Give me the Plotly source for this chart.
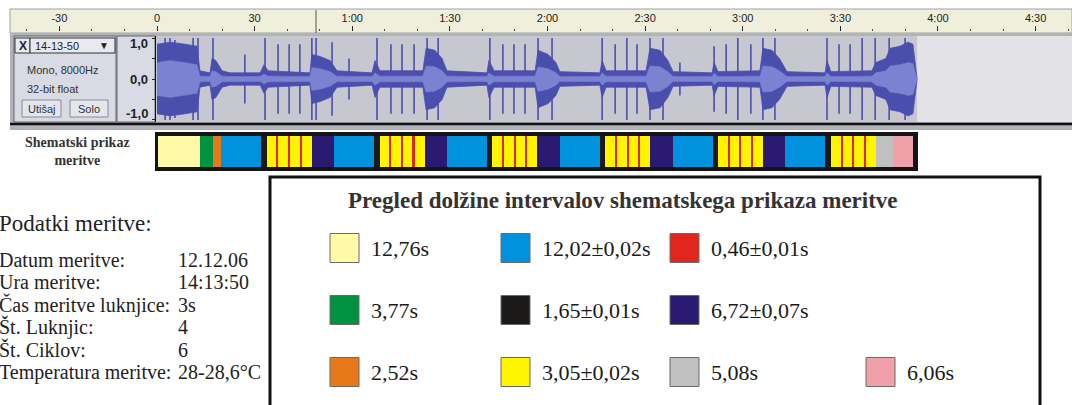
import plotly.graph_objects as go

W, H = 1072, 405

# ---------------- data ----------------
ruler_tick_s = [-30, 0, 30, 60, 90, 120, 150, 180, 210, 240, 270]
ruler_tick_labels = ["-30", "0", "30", "1:00", "1:30", "2:00", "2:30", "3:00", "3:30", "4:00", "4:30"]

# waveform peak / rms envelope (seconds, amplitude)
env_t = [0.0, 4.0, 8.6, 12.3, 13.2, 16.3, 16.9, 18.1, 20.0, 22.4, 31.7, 32.9, 34.1,
         47.0, 47.6, 50.1, 53.2, 55.3, 66.1, 67.0, 68.5, 81.7, 82.7, 85.4, 87.6, 89.1,
         101.4, 102.0, 103.6, 116.2, 117.1, 120.2, 122.6, 123.8, 136.1, 136.8, 138.0,
         150.3, 151.5, 154.6, 157.0, 158.6, 170.6, 171.2, 172.4, 185.3, 186.2, 189.0,
         191.3, 193.6, 205.3, 205.9, 207.1, 219.7, 220.9, 224.0, 225.3, 228.3, 230.8,
         232.3, 233.6]
env_peak = [0.85, 0.9, 0.85, 0.8, 0.2, 0.15, 0.5, 0.45, 0.2, 0.15, 0.15, 0.35, 0.2,
            0.15, 0.6, 0.55, 0.45, 0.2, 0.15, 0.45, 0.2, 0.2, 0.75, 0.7, 0.5, 0.2,
            0.15, 0.45, 0.2, 0.2, 0.7, 0.6, 0.4, 0.18, 0.15, 0.45, 0.2,
            0.2, 0.75, 0.7, 0.45, 0.18, 0.15, 0.4, 0.18, 0.2, 0.75, 0.7,
            0.5, 0.18, 0.15, 0.45, 0.18, 0.2, 0.4, 0.5, 0.75, 0.8, 0.9,
            0.85, 0.0]
env_rms = [0.4, 0.45, 0.4, 0.35, 0.07, 0.06, 0.2, 0.18, 0.07, 0.06, 0.06, 0.12, 0.07,
           0.06, 0.28, 0.25, 0.18, 0.07, 0.06, 0.15, 0.07, 0.07, 0.32, 0.3, 0.2, 0.07,
           0.06, 0.15, 0.07, 0.07, 0.3, 0.25, 0.15, 0.06, 0.06, 0.15, 0.07,
           0.07, 0.32, 0.3, 0.18, 0.06, 0.06, 0.14, 0.06, 0.07, 0.32, 0.3,
           0.2, 0.06, 0.06, 0.15, 0.06, 0.07, 0.15, 0.2, 0.32, 0.35, 0.4,
           0.38, 0.0]
spike_t = [2.5, 4.0, 5.5, 11.1, 12.6, 17.2, 27.0, 33.2, 37.2, 40.6, 43.9, 47.6, 48.9,
           53.8, 59.0, 67.6, 71.9, 75.3, 79.0, 83.0, 86.4, 102.3, 106.3, 109.7, 113.1,
           117.1, 121.4, 136.8, 140.8, 144.4, 147.5, 151.5, 155.5, 160.7, 171.2, 174.9,
           178.5, 182.5, 186.2, 189.9, 205.9, 209.6, 213.0, 216.7, 220.7, 225.0, 229.9]
spike_amp = [1.0, 1.0, 0.95, 1.0, 1.0, 1.0, 0.6, 1.0, 0.85, 0.85, 0.85, 1.0, 1.0,
             0.9, 0.5, 1.0, 0.85, 0.85, 0.85, 1.0, 1.0, 1.0, 0.85, 0.85, 0.85,
             1.0, 1.0, 1.0, 0.85, 1.0, 0.85, 1.0, 1.0, 0.4, 0.8, 0.85,
             1.0, 0.85, 1.0, 1.0, 1.0, 0.85, 0.85, 1.0, 1.0, 1.0, 1.0]
audio_end_s = 233.6
amp_tick_labels = ["1,0", "0,0", "-1,0"]

track_name = "14-13-50"
track_info = ["Mono, 8000Hz", "32-bit float"]
track_buttons = ["Utišaj", "Solo"]

# interval legend
interval_keys = ["svetlo_rumena", "modra", "rdeca", "zelena", "crna", "temno_modra",
                 "oranzna", "rumena", "siva", "roza"]
interval_s = [12.76, 12.02, 0.46, 3.77, 1.65, 6.72, 2.52, 3.05, 5.08, 6.06]
interval_labels = ["12,76s", "12,02±0,02s", "0,46±0,01s", "3,77s", "1,65±0,01s",
                   "6,72±0,07s", "2,52s", "3,05±0,02s", "5,08s", "6,06s"]
interval_colors = ["#fff9a8", "#0092dd", "#e0261f", "#00923f", "#1c1a19", "#2a1a72",
                   "#e8791a", "#fff500", "#c0c0c0", "#f0a0a8"]

schematic_start = ["svetlo_rumena", "zelena", "oranzna", "modra"]
schematic_cycle = ["crna", "rumena", "rdeca", "rumena", "rdeca", "rumena", "rdeca", "rumena",
                   "temno_modra", "modra"]
schematic_repeats = 5
schematic_end = ["crna", "rumena", "rdeca", "rumena", "rdeca", "rumena", "rdeca", "rumena",
                 "siva", "roza"]

info_title = "Podatki meritve:"
info_labels = ["Datum meritve:", "Ura meritve:", "Čas meritve luknjice:", "Št. Luknjic:",
               "Št. Ciklov:", "Temperatura meritve:"]
info_values = ["12.12.06", "14:13:50", "3s", "4", "6", "28-28,6°C"]

schematic_label = "Shematski prikaz<br>meritve"
legend_title = "Pregled dolžine intervalov shematskega prikaza meritve"

# ---------------- layout geometry ----------------
T0_PX = 157.0      # pixel of time 0 on the ruler
PPS = 3.254        # pixels per second
WAVE = "#4a4fae"
RMS = "#7b82d2"
SERIF = "Liberation Serif"
SANS = "Liberation Sans"


def fx(x):
    return x / W


def fy(y):
    return 1 - y / H


def t_at(px):
    return (px - T0_PX) / PPS


fig = go.Figure()

# ---- waveform ----
fig.add_trace(go.Scatter(
    x=env_t + env_t[::-1], y=env_peak + [-a for a in env_peak[::-1]],
    fill="toself", fillcolor=WAVE, mode="lines", line=dict(color=WAVE, width=0.8),
    hoverinfo="skip", xaxis="x", yaxis="y"))
sx, sy = [], []
for t, a in zip(spike_t, spike_amp):
    sx += [t, t, None]
    sy += [-a, a, None]
fig.add_trace(go.Scatter(x=sx, y=sy, mode="lines", line=dict(color=WAVE, width=1.6),
                         hoverinfo="skip", xaxis="x", yaxis="y"))
fig.add_trace(go.Scatter(
    x=env_t + env_t[::-1], y=env_rms + [-a for a in env_rms[::-1]],
    fill="toself", fillcolor=RMS, mode="lines", line=dict(color=RMS, width=0.5),
    hoverinfo="skip", xaxis="x", yaxis="y"))

# ---- ruler (invisible anchor trace) ----
fig.add_trace(go.Scatter(x=[0], y=[0], mode="markers", marker=dict(opacity=0),
                         hoverinfo="skip", xaxis="x2", yaxis="y2"))

# ---- schematic bar ----
dur = dict(zip(interval_keys, interval_s))
col = dict(zip(interval_keys, interval_colors))
sequence = schematic_start + schematic_cycle * schematic_repeats + schematic_end
seg_len = [dur[k] for k in sequence]
seg_base = []
acc = 0.0
for d in seg_len:
    seg_base.append(acc)
    acc += d
total_s = acc
fig.add_trace(go.Bar(
    x=seg_len, base=seg_base, y=[0] * len(seg_len), orientation="h", width=1.0,
    marker=dict(color=[col[k] for k in sequence], line=dict(width=0)),
    hoverinfo="skip", xaxis="x3", yaxis="y3"))

# ---- legend swatches (pixel overlay axis) ----
slot_left = [328, 499, 668, 328, 499, 668, 328, 499, 668, 864]
slot_cy = [248, 248, 248, 310, 310, 310, 372, 372, 372, 372]
fig.add_trace(go.Scatter(
    x=[s + 16.5 for s in slot_left], y=slot_cy, mode="markers",
    marker=dict(symbol="square", size=29, color=interval_colors,
                line=dict(color="#6b6b6b", width=1)),
    hoverinfo="skip", xaxis="x4", yaxis="y4"))

shapes = []


def rect(x0, y0, x1, y1, fill, line=None, lw=0):
    shapes.append(dict(type="rect", xref="paper", yref="paper",
                       x0=fx(x0), x1=fx(x1), y0=fy(y1), y1=fy(y0),
                       fillcolor=fill, line=dict(color=line or fill, width=lw),
                       layer="below"))


def hline(x0, x1, y, color, lw):
    shapes.append(dict(type="line", xref="paper", yref="paper",
                       x0=fx(x0), x1=fx(x1), y0=fy(y), y1=fy(y),
                       line=dict(color=color, width=lw), layer="below"))


# ruler band
rect(10, 9, W, 33, "#efefdc", "#a0a0a0", 1)
shapes.append(dict(type="line", xref="paper", yref="paper", x0=fx(316), x1=fx(316),
                   y0=fy(33), y1=fy(10), line=dict(color="#555", width=1), layer="below"))
# track frame
rect(10, 33, W, 130, "#b2b2ba")
rect(14, 36, 116, 122, "#d8dae4", "#66666c", 1)
rect(117, 36, 155, 122, "#d8dae4", "#66666c", 1)
rect(156, 36, W, 122, "#c6c7cf")
shapes.append(dict(type="rect", xref="x", yref="paper", x0=audio_end_s, x1=t_at(W),
                   y0=fy(122), y1=fy(36), fillcolor="#e3e3e7", line=dict(width=0),
                   layer="below"))
hline(10, W, 124, "#111", 2.5)
# control panel widgets
rect(15, 38, 30, 53, "#e8eaf0", "#333", 1)
rect(30, 38, 115, 53, "#e8eaf0", "#333", 1)
rect(22, 100, 61, 117, "#e4e6ee", "#8a8a90", 1)
rect(70, 100, 108, 117, "#e4e6ee", "#8a8a90", 1)
# schematic frame
rect(155, 132, 918, 171, "#141414")
# legend box
rect(270, 177, 1040, 440, "white", "#111", 3)

ann = []


def text(x, y, s, size, family=SANS, color="#222", anchor="left", bold=False):
    ann.append(dict(x=fx(x), y=fy(y), xref="paper", yref="paper", xanchor=anchor,
                    yanchor="middle", showarrow=False,
                    text=f"<b>{s}</b>" if bold else s,
                    font=dict(family=family, size=size, color=color)))


# track panel text
text(22.5, 45.5, "X", 12, anchor="center", bold=True)
text(33, 46, track_name, 11)
text(104, 45, "▼", 10, anchor="center")
text(25, 70, track_info[0], 11, color="#333")
text(25, 89, track_info[1], 11, color="#333")
text(41.5, 108.5, track_buttons[0], 11, anchor="center", color="#333")
text(89, 108.5, track_buttons[1], 11, anchor="center", color="#333")
for lab, yy in zip(amp_tick_labels, [44, 79, 114]):
    text(150, yy, lab, 13, anchor="right", bold=True, color="#222")

text(77, 151, schematic_label, 14, family=SERIF, anchor="center", bold=True, color="#333")

# info block
text(-3, 224, info_title, 23, family=SERIF, color="#222")
for i, (lab, val) in enumerate(zip(info_labels, info_values)):
    yy = 260 + i * 22.4
    text(-3, yy, lab, 20, family=SERIF, color="#222")
    text(176, yy, val, 20, family=SERIF, color="#222")

# legend texts
text(623, 201, legend_title, 23, family=SERIF, anchor="center", bold=True, color="#333")
for s, cy, lab in zip(slot_left, slot_cy, interval_labels):
    text(s + 41, cy, lab, 22, family=SERIF, color="#1a1a1a")

fig.update_layout(
    width=W, height=H, margin=dict(l=0, r=0, t=0, b=0),
    paper_bgcolor="white", plot_bgcolor="rgba(0,0,0,0)", showlegend=False,
    shapes=shapes, annotations=ann, bargap=0,
    xaxis=dict(domain=[fx(156), 1], range=[t_at(156), t_at(W)], visible=False,
               anchor="y"),
    yaxis=dict(domain=[fy(122), fy(36)], range=[-1.05, 1.05], anchor="x",
               tickvals=[-1, -0.5, 0, 0.5, 1], ticks="outside", ticklen=3,
               tickcolor="#222", showticklabels=False, showline=True,
               linecolor="#111", linewidth=1, showgrid=False, zeroline=False),
    xaxis2=dict(domain=[fx(10), 1], range=[t_at(10), t_at(W)], anchor="y2", side="top",
                tickvals=ruler_tick_s, ticktext=ruler_tick_labels, ticks="outside",
                ticklen=5, tickcolor="#222", tickwidth=1,
                tickfont=dict(family=SANS, size=11, color="#222"),
                minor=dict(dtick=10, tick0=0, ticks="outside", ticklen=2,
                           tickcolor="#444", showgrid=False),
                showline=False, showgrid=False, zeroline=False),
    yaxis2=dict(domain=[fy(33), fy(32)], range=[0, 1], visible=False, anchor="x2"),
    xaxis3=dict(domain=[fx(158), fx(913)], range=[0, total_s], visible=False, anchor="y3"),
    yaxis3=dict(domain=[fy(167), fy(136)], range=[-0.5, 0.5], visible=False, anchor="x3"),
    xaxis4=dict(domain=[0, 1], range=[0, W], visible=False, anchor="y4"),
    yaxis4=dict(domain=[0, 1], range=[H, 0], visible=False, anchor="x4"),
)

fig.write_html("out.html")
